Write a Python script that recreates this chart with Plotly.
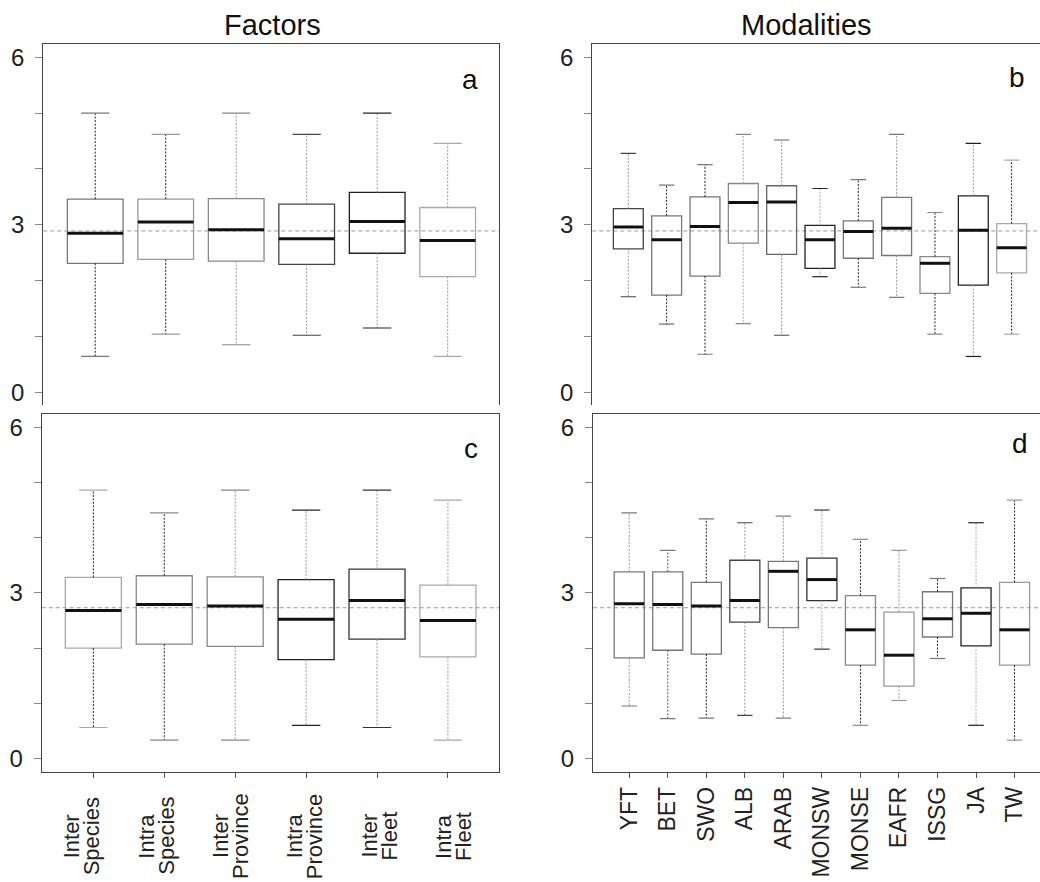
import plotly.graph_objects as go

# ---------------- data ----------------
factor_labels = ["Inter<br>Species", "Intra<br>Species", "Inter<br>Province",
                 "Intra<br>Province", "Inter<br>Fleet", "Intra<br>Fleet"]
modality_labels = ["YFT", "BET", "SWO", "ALB", "ARAB", "MONSW", "MONSE",
                   "EAFR", "ISSG", "JA", "TW"]
y_tick_values = [0, 1, 2, 3, 4, 5, 6]
y_tick_text = ["0", "", "", "3", "", "", "6"]

# panel a (Factors, top)
a_low = [0.64, 1.04, 0.85, 1.02, 1.15, 0.64]
a_q1 = [2.31, 2.38, 2.35, 2.29, 2.49, 2.07]
a_med = [2.85, 3.05, 2.91, 2.75, 3.06, 2.72]
a_q3 = [3.46, 3.46, 3.47, 3.37, 3.58, 3.31]
a_high = [5.00, 4.62, 5.00, 4.62, 5.00, 4.46]
a_ref = 2.89

# panel b (Modalities, top)
b_low = [1.71, 1.22, 0.68, 1.23, 1.02, 2.07, 1.88, 1.70, 1.04, 0.64, 1.04]
b_q1 = [2.57, 1.74, 2.08, 2.67, 2.47, 2.22, 2.40, 2.45, 1.77, 1.92, 2.14]
b_med = [2.96, 2.73, 2.97, 3.40, 3.41, 2.73, 2.88, 2.94, 2.31, 2.90, 2.59]
b_q3 = [3.29, 3.16, 3.50, 3.74, 3.70, 2.99, 3.07, 3.49, 2.43, 3.52, 3.02]
b_high = [4.28, 3.71, 4.08, 4.62, 4.52, 3.65, 3.81, 4.62, 3.22, 4.46, 4.16]
b_ref = 2.89

# panel c (Factors, bottom)
c_low = [0.56, 0.33, 0.33, 0.60, 0.56, 0.33]
c_q1 = [2.00, 2.07, 2.03, 1.79, 2.16, 1.84]
c_med = [2.68, 2.79, 2.76, 2.52, 2.86, 2.50]
c_q3 = [3.28, 3.31, 3.29, 3.24, 3.43, 3.14]
c_high = [4.86, 4.45, 4.86, 4.50, 4.86, 4.68]
c_ref = 2.73

# panel d (Modalities, bottom)
d_low = [0.95, 0.72, 0.73, 0.78, 0.73, 1.98, 0.60, 1.05, 1.81, 0.60, 0.33]
d_q1 = [1.82, 1.96, 1.89, 2.47, 2.37, 2.86, 1.69, 1.31, 2.20, 2.04, 1.69]
d_med = [2.80, 2.79, 2.76, 2.86, 3.39, 3.24, 2.33, 1.87, 2.53, 2.63, 2.33]
d_q3 = [3.38, 3.38, 3.19, 3.59, 3.57, 3.63, 2.95, 2.65, 3.02, 3.09, 3.19]
d_high = [4.45, 3.77, 4.34, 4.27, 4.39, 4.50, 3.97, 3.77, 3.26, 4.27, 4.68]
d_ref = 2.73

# ---------------- styles ----------------
a_box_col = ["#777777", "#999999", "#888888", "#444444", "#222222", "#aaaaaa"]
a_whi_col = ["#222222", "#222222", "#999999", "#999999", "#999999", "#999999"]
b_box_col = ["#444444", "#777777", "#777777", "#888888", "#666666", "#222222",
             "#777777", "#777777", "#888888", "#222222", "#aaaaaa"]
b_whi_col = ["#999999", "#222222", "#222222", "#aaaaaa", "#999999", "#aaaaaa",
             "#222222", "#999999", "#222222", "#999999", "#222222"]
c_box_col = ["#aaaaaa", "#888888", "#888888", "#222222", "#333333", "#aaaaaa"]
c_whi_col = ["#222222", "#222222", "#999999", "#999999", "#999999", "#999999"]
d_box_col = ["#777777", "#777777", "#777777", "#444444", "#777777", "#333333",
             "#888888", "#999999", "#777777", "#222222", "#999999"]
d_whi_col = ["#999999", "#555555", "#222222", "#999999", "#999999", "#aaaaaa",
             "#222222", "#999999", "#222222", "#aaaaaa", "#222222"]

FONT = "Arial, Liberation Sans, Helvetica, sans-serif"
FRAME = "#444444"
W, H = 1040, 882

fig = go.Figure()


def add_panel(ax, low, q1, med, q3, high, box_col, whi_col, bw):
    xa, ya = ("x" + ax) if ax != "1" else "x", ("y" + ax) if ax != "1" else "y"
    cw = 0.2
    for i in range(len(med)):
        # whiskers (dashed)
        fig.add_trace(go.Scatter(
            x=[i, i, None, i, i], y=[q3[i], high[i], None, q1[i], low[i]],
            mode="lines", line=dict(color=whi_col[i], width=1, dash="2px,1.5px"),
            xaxis=xa, yaxis=ya, showlegend=False, hoverinfo="skip"))
        # whisker caps
        fig.add_trace(go.Scatter(
            x=[i - cw, i + cw, None, i - cw, i + cw],
            y=[high[i], high[i], None, low[i], low[i]],
            mode="lines", line=dict(color=box_col[i], width=1.2),
            xaxis=xa, yaxis=ya, showlegend=False, hoverinfo="skip"))
        # box body
        fig.add_trace(go.Box(
            x=[i], q1=[q1[i]], median=[med[i]], q3=[q3[i]],
            lowerfence=[q1[i]], upperfence=[q3[i]],
            width=bw, whiskerwidth=0, boxpoints=False,
            line=dict(color=box_col[i], width=1.3),
            fillcolor="rgba(0,0,0,0)",
            xaxis=xa, yaxis=ya, showlegend=False, hoverinfo="skip"))
        # median (thick black)
        fig.add_trace(go.Scatter(
            x=[i - bw / 2, i + bw / 2], y=[med[i], med[i]],
            mode="lines", line=dict(color="#111111", width=3),
            xaxis=xa, yaxis=ya, showlegend=False, hoverinfo="skip"))


add_panel("1", a_low, a_q1, a_med, a_q3, a_high, a_box_col, a_whi_col, 0.79)
add_panel("2", b_low, b_q1, b_med, b_q3, b_high, b_box_col, b_whi_col, 0.78)
add_panel("3", c_low, c_q1, c_med, c_q3, c_high, c_box_col, c_whi_col, 0.79)
add_panel("4", d_low, d_q1, d_med, d_q3, d_high, d_box_col, d_whi_col, 0.78)

# reference lines
for xr, yr, ref in [("x domain", "y", a_ref), ("x2 domain", "y2", b_ref),
                    ("x3 domain", "y3", c_ref), ("x4 domain", "y4", d_ref)]:
    fig.add_shape(type="line", xref=xr, yref=yr, x0=0, x1=1, y0=ref, y1=ref,
                  line=dict(color="#9a9a9a", width=1, dash="4px,3px"), layer="below")

yaxis_common = dict(
    showline=True, mirror=True, linecolor=FRAME, linewidth=1,
    ticks="outside", ticklen=7, tickcolor="#888888", tickwidth=1,
    tickvals=y_tick_values, ticktext=y_tick_text, ticklabelstandoff=6,
    tickfont=dict(size=24, color="#222222", family=FONT),
    showgrid=False, zeroline=False)

top_x = dict(side="top", showline=True, linecolor=FRAME, linewidth=1,
             ticks="", showticklabels=False, showgrid=False, zeroline=False)
bot_x = dict(showline=True, mirror=True, linecolor=FRAME, linewidth=1,
             ticks="outside", ticklen=5, tickcolor="#555555", tickangle=-90,
             tickfont=dict(size=23, color="#222222", family=FONT),
             showgrid=False, zeroline=False)

fig.update_layout(
    width=W, height=H,
    margin=dict(l=0, r=0, t=0, b=0),
    paper_bgcolor="white", plot_bgcolor="white",
    font=dict(family=FONT, color="#222222"),
    showlegend=False,
    xaxis=dict(domain=[0.0416, 0.4798], range=[-0.737, 5.728], anchor="y", **top_x),
    yaxis=dict(domain=[0.5408, 0.9501], range=[-0.23, 6.24], anchor="x", **yaxis_common),
    xaxis2=dict(domain=[0.5695, 1.0], range=[-0.94, 10.74], anchor="y2", **top_x),
    yaxis2=dict(domain=[0.5408, 0.9501], range=[-0.23, 6.24], anchor="x2", **yaxis_common),
    xaxis3=dict(domain=[0.0401, 0.4798], range=[-0.728, 5.72], anchor="y3",
                tickvals=list(range(len(factor_labels))), showticklabels=False, **bot_x),
    yaxis3=dict(domain=[0.1251, 0.5306], range=[-0.24, 6.24], anchor="x3", **yaxis_common),
    xaxis4=dict(domain=[0.5702, 1.0], range=[-0.94, 10.66], anchor="y4",
                tickvals=list(range(len(modality_labels))), ticktext=modality_labels, **bot_x),
    yaxis4=dict(domain=[0.1251, 0.5306], range=[-0.24, 6.24], anchor="x4", **yaxis_common),
)

# factor tick labels: two centred lines, rotated
label_step = 74.3 / 70.9
label_start = -10.0 / 70.9
for i, lab in enumerate(factor_labels):
    lines = lab.split("<br>")
    for txt, shift in zip(lines, [-12, 8]):
        fig.add_annotation(text=txt, xref="x3", yref="paper",
                           x=label_start + label_step * i, y=1 - 836 / H,
                           xshift=shift, textangle=-90,
                           xanchor="center", yanchor="middle", showarrow=False,
                           font=dict(size=22, color="#222222", family=FONT))

# titles and panel letters
for txt, x, y, size in [("Factors", 272, 25, 29), ("Modalities", 806, 25, 29),
                        ("a", 470, 79, 28), ("b", 1017, 77, 28),
                        ("c", 471, 448, 28), ("d", 1020, 443, 28)]:
    fig.add_annotation(text=txt, xref="paper", yref="paper",
                       x=x / W, y=1 - y / H, xanchor="center", yanchor="middle",
                       showarrow=False, font=dict(size=size, color="#111111", family=FONT))

fig.write_html("out.html",
               config={"displayModeBar": False},
               post_script="document.body.style.margin='0px';"
                           "document.body.style.overflow='hidden';")
